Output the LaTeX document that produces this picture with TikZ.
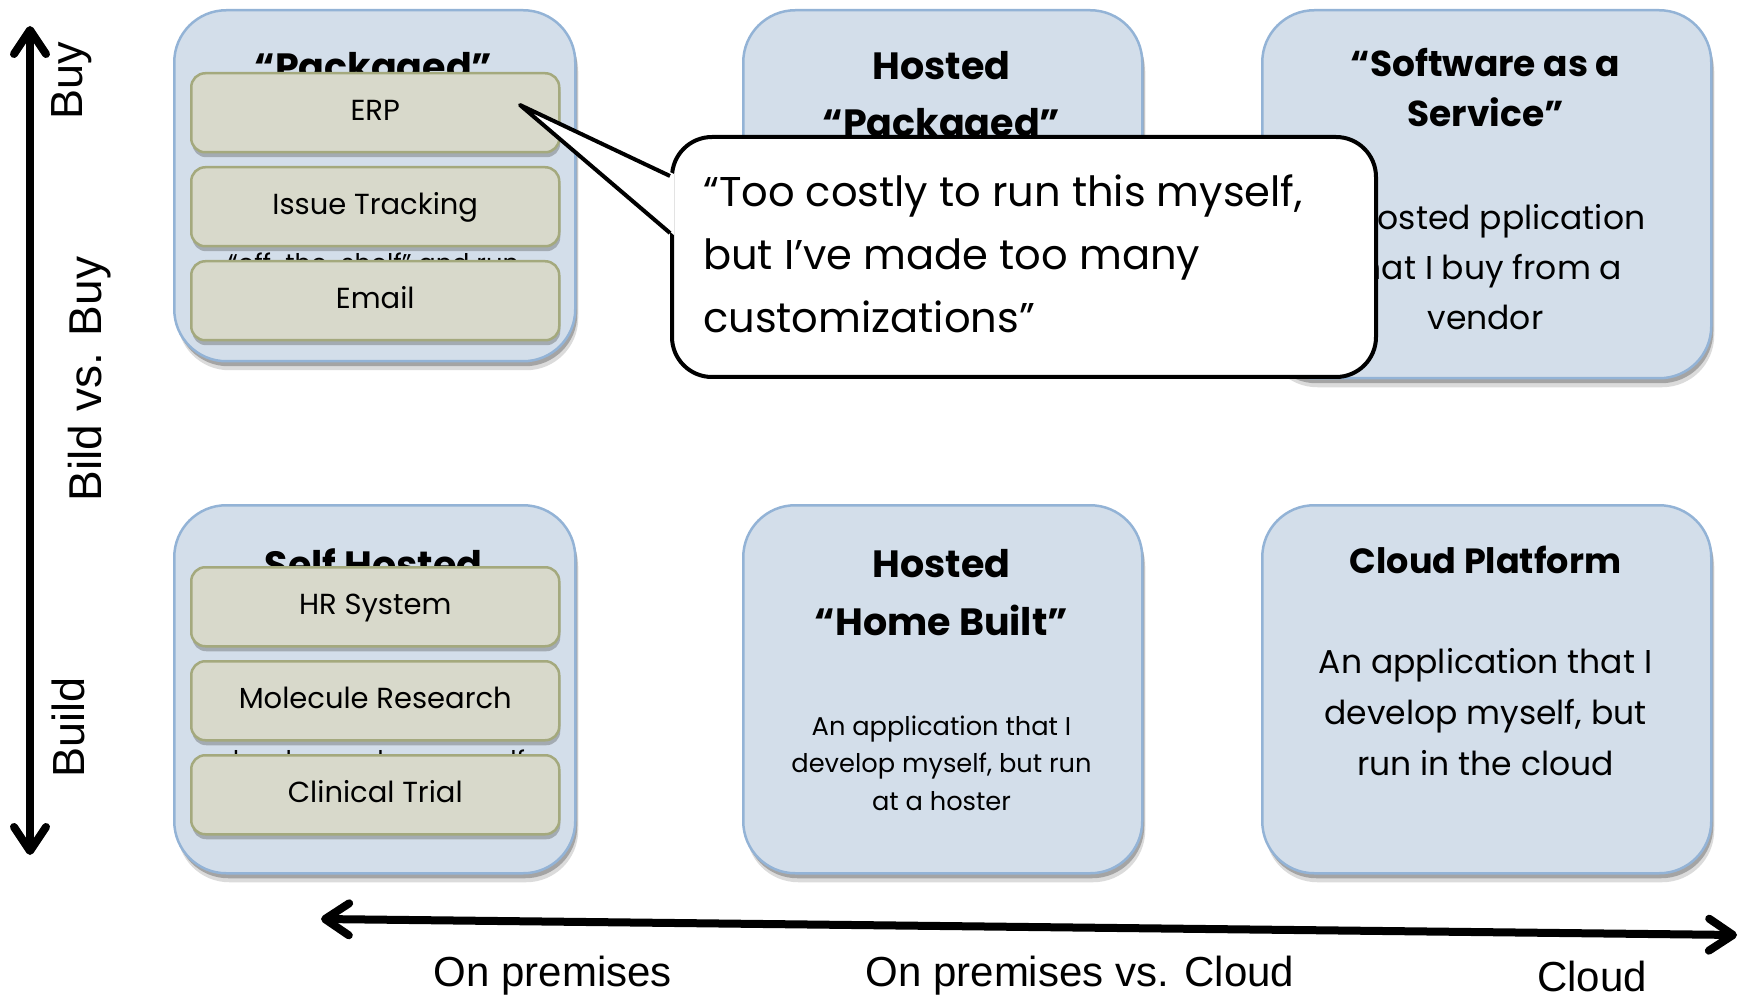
\documentclass[tikz,border=0pt]{standalone}
\usepackage{fontspec}
\setmainfont{Poppins}
\newfontfamily\axisfont{Liberation Sans}
\usetikzlibrary{arrows.meta,shadows}
\definecolor{boxfill}{HTML}{D3DEEA}
\definecolor{boxline}{HTML}{93B3D6}
\definecolor{itemfill}{HTML}{D8D9CB}
\definecolor{itemline}{HTML}{A4A97D}
\newcommand\fs[2]{\fontsize{#1}{#2}\selectfont}
\begin{document}
\begin{tikzpicture}[x=1pt,y=-1pt,
  outerbox/.style={draw=boxline, line width=2.5pt, fill=boxfill, rounded corners=52pt,
    anchor=north west, inner sep=0pt,
    drop shadow={shadow xshift=2pt, shadow yshift=-5pt, opacity=0.25, fill=black},
    drop shadow={shadow xshift=3pt, shadow yshift=-9pt, opacity=0.14, fill=black}},
  item/.style={draw=itemline, line width=2.5pt, fill=itemfill, rounded corners=14pt,
    anchor=north west, minimum width=368pt, minimum height=79pt, inner sep=0pt,
    text height=20pt, text depth=4pt, font=\fs{29}{35},
    drop shadow={shadow xshift=1pt, shadow yshift=-5pt, opacity=0.35, fill=black!70}},
  title/.style={anchor=base, align=center, inner sep=0pt},
  calloutbox/.style={draw=black, line width=4pt, fill=white, rounded corners=40pt,
    anchor=north west, inner sep=0pt},
  axisarrow/.style={line width=8pt, {Straight Barb[length=24pt,width=32pt,round]}-{Straight Barb[length=24pt,width=32pt,round]}},
  axislabel/.style={inner sep=0pt, font=\axisfont}
]
\useasboundingbox (0,0) rectangle (1741,1000);

% outer boxes
\node[outerbox, minimum width=401pt, minimum height=351pt] (tl) at (173,9) {};
\node[outerbox, minimum width=399pt, minimum height=351pt] (tm) at (742,9) {};
\node[outerbox, minimum width=449pt, minimum height=368pt] (tr) at (1261,9) {};
\node[outerbox, minimum width=401pt, minimum height=368pt] (bl) at (173,504) {};
\node[outerbox, minimum width=399pt, minimum height=368pt] (bm) at (742,504) {};
\node[outerbox, minimum width=449pt, minimum height=368pt] (br) at (1261,504) {};

% titles and descriptions (anchor base = baseline of the last line)
\node[title, font=\bfseries\fs{38}{57}] (tlt) at (373.5,81) {“Packaged”};
\node[title, font=\fs{25.7}{37}] (tld) at (373.5,310) {An application that I buy\\“off-the-shelf” and run\\myself};
\node[title, font=\bfseries\fs{38}{57}] (tmt) at (941.5,137) {Hosted\\“Packaged”};
\node[title, font=\bfseries\fs{36}{50}] (trt) at (1485.5,127) {“Software as a\\Service”};
\node[title, font=\fs{33}{50}] (trd) at (1485.5,330) {A hosted pplication\\that I buy from a\\vendor};
\node[title, font=\bfseries\fs{38}{57}] (blt) at (373.5,578) {Self Hosted};
\node[title, font=\fs{25.7}{37}] (bld) at (373.5,769) {An application that I\\develop and run myself};
\node[title, font=\bfseries\fs{38}{58}] (bmt) at (941.5,635) {Hosted\\“Home Built”};
\node[title, font=\fs{25.7}{37.5}] (bmd) at (941.5,810) {An application that I\\develop myself, but run\\at a hoster};
\node[title, font=\bfseries\fs{35}{50}] (brt) at (1485.5,573) {Cloud Platform};
\node[title, font=\fs{33}{51}] (brd) at (1485.5,775) {An application that I\\develop myself, but\\run in the cloud};

% items
\node[item] (erp) at (190,72) {ERP};
\node[item] (issue) at (190,166) {Issue Tracking};
\node[item] (email) at (190,260) {Email};
\node[item] (hr) at (190,566) {HR System};
\node[item] (mol) at (190,660) {Molecule Research};
\node[item] (clin) at (190,754) {Clinical Trial};

% callout
\node[calloutbox, minimum width=704pt, minimum height=240pt] (callout) at (670,135) {};
\coordinate (tip) at (520,105);
\coordinate (pu) at (670,176);
\coordinate (pl) at (670,233);
\fill[white] (tip) -- (674,174) -- (674,235) -- cycle;
\draw[line width=4pt, line join=round] (pu) -- (tip) -- (pl);
\node[anchor=base west, align=left, inner sep=0pt, font=\fs{41.6}{63}] (quote) at (703,333)
  {“Too costly to run this myself,\\but I’ve made too many\\customizations”};

% axes
\coordinate (vtop) at (30,26);
\coordinate (vbot) at (30,855);
\draw[axisarrow] (vtop) -- (vbot);
\coordinate (hleft) at (321,919);
\coordinate (hright) at (1737,935);
\draw[axisarrow] (hleft) -- (hright);

\node[axislabel, rotate=90, anchor=base, font=\axisfont\fs{45}{50}] (buy) at (82,81) {Buy};
\node[axislabel, rotate=90, anchor=base, font=\axisfont\fs{46}{50}] (bvb) at (101,379) {Bild vs. Buy};
\node[axislabel, rotate=90, anchor=base, font=\axisfont\fs{45}{50}] (build) at (84,727) {Build};
\node[axislabel, anchor=base, font=\axisfont\fs{42}{50}] (onprem) at (553,986) {On premises};
\node[axislabel, anchor=base, font=\axisfont\fs{42}{50}] (vs) at (1080,986) {On premises vs. Cloud};
\node[axislabel, anchor=base, font=\axisfont\fs{42}{50}] (cloud) at (1592,991) {Cloud};
\end{tikzpicture}
\end{document}
